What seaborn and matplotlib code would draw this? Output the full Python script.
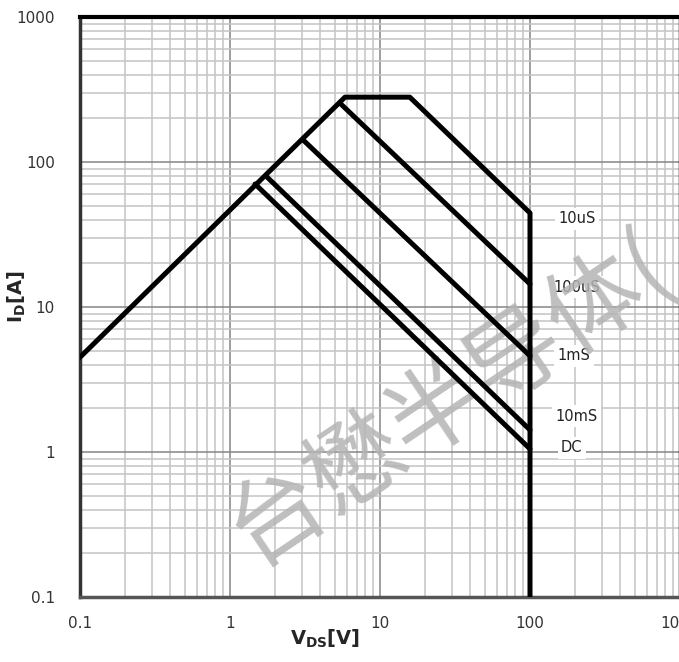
import numpy as np
import pandas as pd
import matplotlib
matplotlib.use("Agg")
import matplotlib.pyplot as plt
import seaborn as sns
from matplotlib.ticker import LogLocator, FixedLocator, FixedFormatter, NullFormatter

# SOA curves (V_DS [V], I_D [A])
limit_v = [0.1, 5.84, 15.8, 100, 100]
limit_i = [4.5, 280, 280, 44.5, 0.1]
us100_v = [5.4, 100]
us100_i = [255, 14.4]
ms1_v = [3.07, 100]
ms1_i = [142, 4.6]
ms10_v = [1.76, 100]
ms10_i = [79, 1.42]
dc_v = [1.47, 100]
dc_i = [70.5, 1.05]

curve_labels = ["10uS", "100uS", "1mS", "10mS", "DC"]
label_v = [206, 206, 196, 204, 190]
label_i = [40.5, 13.7, 4.6, 1.77, 1.07]

tick_vals = [0.1, 1, 10, 100, 1000]
tick_text = ["0.1", "1", "10", "100", "1000"]

watermark = "台懋半导体("

sns.set_style("white")
plt.rcParams["font.family"] = ["DejaVu Sans", "Noto Sans CJK SC"]

fig = plt.figure(figsize=(6.79, 6.62), dpi=100)
W, H = 679, 662
ax = fig.add_axes([80 / W, (H - 597) / H, 600 / W, 580 / H])

curves = [(limit_v, limit_i), (us100_v, us100_i), (ms1_v, ms1_i),
          (ms10_v, ms10_i), (dc_v, dc_i)]
for vv, ii in curves:
    df = pd.DataFrame({"v": vv, "i": ii})
    sns.lineplot(data=df, x="v", y="i", sort=False, estimator=None,
                 color="black", lw=3.6, ax=ax, zorder=5)

ax.set_xscale("log")
ax.set_yscale("log")
ax.set_xlim(0.1, 1000)
ax.set_ylim(0.1, 1000)

for axis in (ax.xaxis, ax.yaxis):
    axis.set_major_locator(FixedLocator(tick_vals))
    axis.set_major_formatter(FixedFormatter(tick_text))
    axis.set_minor_locator(LogLocator(base=10, subs=np.arange(2, 10)))
    axis.set_minor_formatter(NullFormatter())

ax.grid(which="minor", color="#c4c4c4", lw=1.1, zorder=0)
ax.grid(which="major", color="#858585", lw=1.1, zorder=0)
ax.set_axisbelow(True)

ax.tick_params(which="both", length=0)
ax.tick_params(axis="x", pad=14, labelsize=11, labelcolor="#333333")
ax.tick_params(axis="y", pad=18, labelsize=11, labelcolor="#333333")

ax.spines["top"].set_color("black")
ax.spines["top"].set_linewidth(3)
ax.spines["left"].set_color("#333333")
ax.spines["left"].set_linewidth(2.5)
ax.spines["bottom"].set_color("#555555")
ax.spines["bottom"].set_linewidth(2.5)
ax.spines["right"].set_color("black")
ax.spines["right"].set_linewidth(2.5)

for txt, xv, yv in zip(curve_labels, label_v, label_i):
    ax.text(xv, yv, txt, ha="center", va="center", fontsize=10.5,
            color="#222222", zorder=4,
            bbox=dict(facecolor="white", edgecolor="none", pad=2.5))

ax.set_xlabel(r"$\mathbf{V}_{\mathbf{DS}}\mathbf{[V]}$", fontsize=14)
ax.set_ylabel(r"$\mathbf{I}_{\mathbf{D}}\mathbf{[A]}$", fontsize=14)
ax.xaxis.set_label_coords((325 - 80) / 600, -0.053)
ax.yaxis.set_label_coords(-0.087, (597 - 297) / 580)

# light watermark running diagonally, above grid/labels but under the curves
ax.text(237 / W, 1 - 542 / H, watermark, transform=fig.transFigure,
        fontsize=69, color="#b4b4b4", alpha=0.85, rotation=34,
        ha="left", va="center", rotation_mode="anchor",
        family=["Noto Sans CJK SC", "DejaVu Sans"], zorder=4.5, clip_on=False)

fig.savefig("out.png", dpi=100)
